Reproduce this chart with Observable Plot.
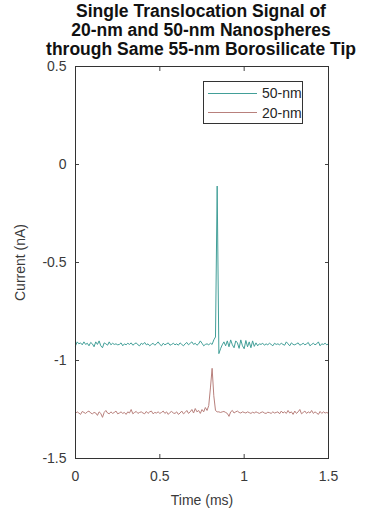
<!DOCTYPE html>
<html>
<head>
<meta charset="utf-8">
<script src="https://cdn.jsdelivr.net/npm/d3@7"></script>
<script src="https://cdn.jsdelivr.net/npm/@observablehq/plot@0.6"></script>
<style>
  html, body { margin: 0; padding: 0; background: #fff; width: 368px; height: 512px; overflow: hidden; }
  body { position: relative; font-family: "Liberation Sans", Arial, sans-serif; }
  #title {
    position: absolute; left: 1px; top: 2px; width: 400px; height: 57px;
    text-align: center; white-space: nowrap;
    font: bold 17.5px/19px "Liberation Sans", Arial, sans-serif; color: #111;
  }
  #chart { position: absolute; left: 0; top: 46px; }
  #legend {
    position: absolute; left: 203px; top: 81px; width: 100px; height: 43px;
    border: 1px solid #333; background: #fff; box-sizing: border-box;
    font: 14px "Liberation Sans", Arial, sans-serif; color: #262626;
  }
  #legend .row { position: absolute; left: 4px; height: 16px; display: flex; align-items: center; white-space: nowrap; }
  #legend .swatch { width: 49px; height: 0; border-top: 1.2px solid; margin-right: 5px; flex: none; }
</style>
</head>
<body>
<div id="title">Single Translocation Signal of<br>20-nm and 50-nm Nanospheres<br>through Same 55-nm Borosilicate Tip</div>
<div id="chart"></div>
<div id="legend"></div>
<script>
// Sampling interval of the recorded traces (ms)
const sampleStep = 0.01;

// Current through the tip for a 50-nm sphere translocation (nA)
const current50nm = [
  -0.925,-0.905,-0.915,-0.910,-0.920,-0.905,-0.918,-0.912,-0.925,-0.908,
  -0.915,-0.930,-0.905,-0.918,-0.900,-0.925,-0.935,-0.910,-0.915,-0.922,
  -0.905,-0.920,-0.912,-0.918,-0.915,-0.920,-0.918,-0.910,-0.925,-0.915,
  -0.920,-0.912,-0.918,-0.910,-0.922,-0.915,-0.910,-0.920,-0.925,-0.912,
  -0.918,-0.908,-0.920,-0.915,-0.925,-0.918,-0.912,-0.922,-0.915,-0.905,
  -0.918,-0.925,-0.912,-0.920,-0.915,-0.910,-0.922,-0.918,-0.912,-0.920,
  -0.915,-0.922,-0.910,-0.918,-0.925,-0.915,-0.908,-0.920,-0.912,-0.905,
  -0.918,-0.912,-0.922,-0.915,-0.900,-0.912,-0.925,-0.918,-0.915,-0.920,
  -0.912,-0.918,-0.895,-0.880,-0.110,-0.965,-0.940,-0.920,-0.905,-0.925,
  -0.900,-0.930,-0.895,-0.920,-0.935,-0.900,-0.910,-0.938,-0.895,-0.925,
  -0.940,-0.898,-0.930,-0.905,-0.935,-0.900,-0.928,-0.910,-0.925,-0.915,
  -0.918,-0.912,-0.922,-0.915,-0.920,-0.912,-0.918,-0.925,-0.912,-0.918,
  -0.915,-0.920,-0.912,-0.918,-0.922,-0.905,-0.915,-0.925,-0.910,-0.918,
  -0.920,-0.915,-0.910,-0.922,-0.918,-0.912,-0.920,-0.915,-0.908,-0.925,
  -0.918,-0.912,-0.920,-0.915,-0.905,-0.925,-0.915,-0.918,-0.912,-0.920,
  -0.915
];

// Current through the same tip for a 20-nm sphere translocation (nA)
const current20nm = [
  -1.270,-1.262,-1.268,-1.275,-1.260,-1.265,-1.270,-1.262,-1.258,-1.268,
  -1.272,-1.265,-1.268,-1.280,-1.262,-1.270,-1.290,-1.265,-1.255,-1.268,
  -1.272,-1.262,-1.270,-1.265,-1.258,-1.272,-1.268,-1.262,-1.270,-1.265,
  -1.275,-1.262,-1.268,-1.250,-1.272,-1.265,-1.260,-1.270,-1.265,-1.262,
  -1.268,-1.272,-1.260,-1.270,-1.262,-1.258,-1.272,-1.265,-1.268,-1.262,
  -1.270,-1.265,-1.258,-1.270,-1.262,-1.275,-1.265,-1.260,-1.268,-1.270,
  -1.262,-1.275,-1.268,-1.258,-1.272,-1.265,-1.255,-1.270,-1.262,-1.250,
  -1.268,-1.245,-1.262,-1.255,-1.270,-1.250,-1.262,-1.240,-1.255,-1.230,
  -1.140,-1.040,-1.180,-1.255,-1.262,-1.262,-1.265,-1.262,-1.260,-1.265,
  -1.270,-1.285,-1.262,-1.255,-1.268,-1.262,-1.258,-1.265,-1.268,-1.262,
  -1.265,-1.268,-1.262,-1.266,-1.270,-1.264,-1.268,-1.262,-1.266,-1.270,
  -1.265,-1.262,-1.268,-1.270,-1.264,-1.266,-1.270,-1.262,-1.268,-1.265,
  -1.262,-1.272,-1.258,-1.268,-1.262,-1.270,-1.255,-1.268,-1.262,-1.275,
  -1.258,-1.270,-1.262,-1.250,-1.272,-1.265,-1.258,-1.270,-1.262,-1.268,
  -1.255,-1.270,-1.262,-1.268,-1.275,-1.260,-1.270,-1.262,-1.268,-1.265,
  -1.270
];

const seriesNames = ["50-nm", "20-nm"];
const seriesColors = ["#429f98", "#b8807c"];

const xTicks = [0, 0.5, 1, 1.5];
const yTicks = [0.5, 0, -0.5, -1, -1.5];
const xTickLabels = ["0", "0.5", "1", "1.5"];
const yTickLabels = ["0.5", "0", "-0.5", "-1", "-1.5"];

const rows = [
  ...current50nm.map((v, i) => ({time: i * sampleStep, current: v, series: seriesNames[0]})),
  ...current20nm.map((v, i) => ({time: i * sampleStep, current: v, series: seriesNames[1]}))
];

const axisFont = {fontSize: 14, fill: "#3a3a3a"};

const chart = Plot.plot({
  width: 368,
  height: 466,
  marginTop: 20,
  marginBottom: 54,
  marginLeft: 75,
  marginRight: 40,
  style: {fontFamily: "'Liberation Sans', Arial, sans-serif", fontSize: "14px", background: "transparent"},
  x: {domain: [0, 1.5]},
  y: {domain: [-1.5, 0.5]},
  color: {domain: seriesNames, range: seriesColors},
  marks: [
    // tick labels and axis titles
    Plot.axisX(xTicks, {anchor: "bottom", tickSize: 0, tickPadding: 13, tickFormat: (d, i) => xTickLabels[i], ...axisFont,
      label: "Time (ms)", labelAnchor: "center", labelOffset: 46, labelArrow: "none"}),
    Plot.axisY(yTicks, {anchor: "left", tickSize: 0, tickPadding: 9, tickFormat: (d, i) => yTickLabels[i], ...axisFont,
      label: "Current (nA)", labelAnchor: "center", labelOffset: 60, labelArrow: "none"}),
    // inward tick marks on all four sides
    Plot.axisX(xTicks, {anchor: "bottom", tickSize: -4, text: null, label: null, stroke: "#444"}),
    Plot.axisX(xTicks, {anchor: "top", tickSize: -4, text: null, label: null, stroke: "#444"}),
    Plot.axisY(yTicks, {anchor: "left", tickSize: -4, text: null, label: null, stroke: "#444"}),
    Plot.axisY(yTicks, {anchor: "right", tickSize: -4, text: null, label: null, stroke: "#444"}),
    Plot.line(rows, {x: "time", y: "current", z: "series", stroke: "series", strokeWidth: 1}),
    Plot.frame({stroke: "#333", strokeWidth: 1})
  ]
});
document.getElementById("chart").append(chart);

// Legend box
const legend = document.getElementById("legend");
seriesNames.forEach((name, i) => {
  const row = document.createElement("div");
  row.className = "row";
  row.style.top = (3 + i * 19.5) + "px";
  const sw = document.createElement("div");
  sw.className = "swatch";
  sw.style.borderTopColor = seriesColors[i];
  const label = document.createElement("span");
  label.textContent = name;
  row.append(sw, label);
  legend.append(row);
});
</script>
</body>
</html>
